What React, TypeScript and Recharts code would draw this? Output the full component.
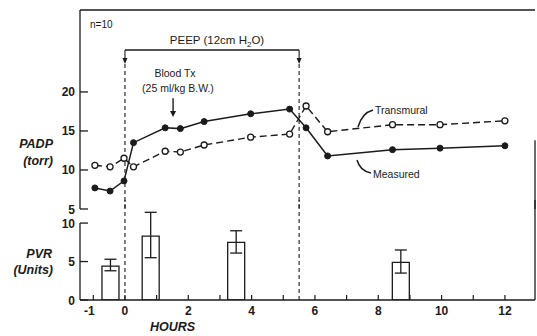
import React from 'react'
import { ComposedChart, Line, Bar, ErrorBar, XAxis, YAxis, ReferenceLine } from 'recharts'

// PADP, paired readings (hours after start)
const hours = [-0.95, -0.47, -0.03, 0.27, 1.27, 1.75, 2.5, 3.97, 5.2, 5.72, 6.4, 8.45, 9.95, 12]
const measured = [7.7, 7.3, 8.6, 13.5, 15.4, 15.3, 16.2, 17.2, 17.8, 15.4, 11.8, 12.6, 12.8, 13.1]
const transmural = [10.6, 10.4, 11.5, 10.4, 12.4, 12.3, 13.2, 14.2, 14.6, 18.2, 14.9, 15.8, 15.8, 16.3]

// PVR bars with error limits
const pvrHours = [-0.47, 0.8, 3.5, 8.7]
const pvr = [4.4, 8.3, 7.5, 4.9]
const pvrLow = [3.8, 5.5, 6.1, 3.5]
const pvrHigh = [5.3, 11.4, 9.0, 6.5]

const hourTicks = [-1, 0, 1, 2, 3, 4, 5, 6, 7, 8, 9, 10, 11, 12]
const hourLabels = [-1, 0, 2, 4, 6, 8, 10, 12]
const padpTicks = [5, 10, 15, 20]
const pvrTicks = [0, 5, 10]

const peepStart = 0
const peepEnd = 5.5
const bloodTx = 1.52

const xDomain: [number, number] = [-1.42, 12.95]
const padpDomain: [number, number] = [5, 30.5]
const pvrDomain: [number, number] = [0, 13]

const ink = '#1b1b1b'
const font = '"Liberation Sans", Arial, sans-serif'

const padpRows = hours.map((h, i) => ({ hour: h, measured: measured[i], transmural: transmural[i] }))
const pvrRows = pvrHours.map((h, i) => ({
  hour: h,
  pvr: pvr[i],
  err: [pvr[i] - pvrLow[i], pvrHigh[i] - pvr[i]],
}))

const YTick = (props: any) => {
  const { x, y, payload } = props
  return (
    <g>
      <line x1={x + 4} x2={x + 12} y1={y} y2={y} stroke={ink} strokeWidth={1.3} />
      <text x={x - 1} y={y} dy={4.5} textAnchor="end" fontSize={12} fontWeight={700} fontFamily={font} fill={ink}>
        {payload.value}
      </text>
    </g>
  )
}

const XTick = (props: any) => {
  const { x, y, payload } = props
  const v = payload.value
  return (
    <g>
      <line x1={x} x2={x} y1={y} y2={y - 5} stroke={ink} strokeWidth={1.2} />
      {hourLabels.includes(v) && (
        <text x={v === -1 ? x - 4 : x} y={y + 15} textAnchor="middle" fontSize={12} fontWeight={700} fontFamily={font} fill={ink}>
          {v}
        </text>
      )}
    </g>
  )
}

const DropArrow = (p: any) => {
  const { x1, y1, y2 } = p
  return (
    <g>
      <line x1={x1} x2={x1} y1={y1} y2={y1 + 8} stroke={ink} strokeWidth={1.1} />
      <path d={`M${x1 - 2.5},${y1 + 8} L${x1 + 2.5},${y1 + 8} L${x1},${y1 + 14} Z`} fill={ink} />
      <line x1={x1} x2={x1} y1={y1 + 14} y2={y2} stroke={ink} strokeWidth={1.1} strokeDasharray="4 3" />
    </g>
  )
}

const SolidArrow = (p: any) => {
  const { x1, y1, y2 } = p
  return (
    <g>
      <line x1={x1} x2={x1} y1={y1} y2={y2 - 5} stroke={ink} strokeWidth={1.4} />
      <path d={`M${x1 - 3},${y2 - 6} L${x1 + 3},${y2 - 6} L${x1},${y2} Z`} fill={ink} />
    </g>
  )
}

const label = { fontFamily: font, fill: ink } as const

export default function App() {
  return (
    <div style={{ position: 'absolute', left: 0, top: 0, width: 537, height: 336, background: '#fff' }}>
      <div style={{ position: 'absolute', left: 0, top: 0 }}>
        <ComposedChart width={537} height={220} data={padpRows} margin={{ top: 10, right: 2, left: 0, bottom: 11 }}>
          <XAxis dataKey="hour" type="number" domain={xDomain} allowDataOverflow hide />
          <YAxis
            domain={padpDomain}
            ticks={padpTicks}
            interval={0}
            width={80}
            allowDataOverflow
            tickSize={0}
            tickMargin={4}
            tickLine={false}
            tick={<YTick />}
            axisLine={{ stroke: ink, strokeWidth: 1.3 }}
          />
          <ReferenceLine y={padpDomain[1]} stroke={ink} strokeWidth={1.4} />
          <ReferenceLine
            segment={[{ x: xDomain[1], y: 5 }, { x: xDomain[1], y: 13.8 }]}
            stroke={ink}
            strokeWidth={1.3}
          />
          <ReferenceLine
            segment={[{ x: peepStart, y: 25.38 }, { x: peepEnd, y: 25.38 }]}
            stroke={ink}
            strokeWidth={1.4}
          />
          <ReferenceLine segment={[{ x: peepStart, y: 25.38 }, { x: peepStart, y: 5 }]} shape={<DropArrow />} />
          <ReferenceLine segment={[{ x: peepEnd, y: 25.38 }, { x: peepEnd, y: 5 }]} shape={<DropArrow />} />
          <ReferenceLine segment={[{ x: bloodTx, y: 19.2 }, { x: bloodTx, y: 16.8 }]} shape={<SolidArrow />} />
          <Line
            dataKey="transmural"
            type="linear"
            stroke={ink}
            strokeWidth={1.4}
            strokeDasharray="7 4"
            dot={{ r: 3, fill: '#fff', stroke: ink, strokeWidth: 1.3, strokeDasharray: '' }}
            isAnimationActive={false}
          />
          <Line
            dataKey="measured"
            type="linear"
            stroke={ink}
            strokeWidth={1.5}
            dot={{ r: 3, fill: ink, stroke: ink, strokeWidth: 1 }}
            isAnimationActive={false}
          />
        </ComposedChart>
      </div>
      <div style={{ position: 'absolute', left: 0, top: 195 }}>
        <ComposedChart width={537} height={141} data={pvrRows} margin={{ top: 5, right: 2, left: 0, bottom: 0 }}>
          <XAxis
            dataKey="hour"
            type="number"
            domain={xDomain}
            ticks={hourTicks}
            interval={0}
            allowDataOverflow
            height={36}
            tickSize={0}
            tickMargin={0}
            tickLine={false}
            tick={<XTick />}
            axisLine={{ stroke: ink, strokeWidth: 1.4 }}
          />
          <YAxis
            domain={pvrDomain}
            ticks={pvrTicks}
            interval={0}
            width={80}
            allowDataOverflow
            tickSize={0}
            tickMargin={4}
            tickLine={false}
            tick={<YTick />}
            axisLine={false}
          />
          <ReferenceLine
            segment={[{ x: xDomain[0], y: 0 }, { x: xDomain[0], y: 10 }]}
            stroke={ink}
            strokeWidth={1.3}
          />
          <ReferenceLine
            segment={[{ x: xDomain[1], y: 0 }, { x: xDomain[1], y: 13 }]}
            stroke={ink}
            strokeWidth={1.3}
          />
          <ReferenceLine x={peepStart} stroke={ink} strokeWidth={1.1} strokeDasharray="4 3" />
          <ReferenceLine x={peepEnd} stroke={ink} strokeWidth={1.1} strokeDasharray="4 3" />
          <Bar dataKey="pvr" barSize={17} fill="#fff" stroke={ink} strokeWidth={1.3} isAnimationActive={false}>
            <ErrorBar dataKey="err" width={6} stroke={ink} strokeWidth={1.3} direction="y" />
          </Bar>
        </ComposedChart>
      </div>
      <svg width={537} height={336} style={{ position: 'absolute', left: 0, top: 0, pointerEvents: 'none' }}>
        <text x={90} y={28} fontSize={10} {...label}>n=10</text>
        <text x={217} y={44} fontSize={11.5} textAnchor="middle" {...label}>
          PEEP (12cm H<tspan fontSize={8} dy={3}>2</tspan><tspan dy={-3}>O)</tspan>
        </text>
        <text x={175} y={77} fontSize={10.5} textAnchor="middle" {...label}>Blood Tx</text>
        <text x={178} y={92} fontSize={10.5} textAnchor="middle" {...label}>(25 ml/kg B.W.)</text>
        <text x={375} y={114} fontSize={10.5} {...label}>Transmural</text>
        <text x={373} y={178} fontSize={10.5} {...label}>Measured</text>
        <path d="M358,127 Q362,113 373,110" fill="none" stroke={ink} strokeWidth={1.5} />
        <path d="M357,160 Q360,171 371,173" fill="none" stroke={ink} strokeWidth={1.5} />
        <text x={53} y={148} fontSize={12.5} fontStyle="italic" fontWeight={700} textAnchor="end" {...label}>PADP</text>
        <text x={53} y={165} fontSize={12.5} fontStyle="italic" fontWeight={700} textAnchor="end" {...label}>(torr)</text>
        <text x={52} y={258} fontSize={12.5} fontStyle="italic" fontWeight={700} textAnchor="end" {...label}>PVR</text>
        <text x={53} y={274} fontSize={12.5} fontStyle="italic" fontWeight={700} textAnchor="end" {...label}>(Units)</text>
        <text x={150} y={331} fontSize={12.5} fontStyle="italic" fontWeight={700} {...label}>HOURS</text>
      </svg>
    </div>
  )
}
